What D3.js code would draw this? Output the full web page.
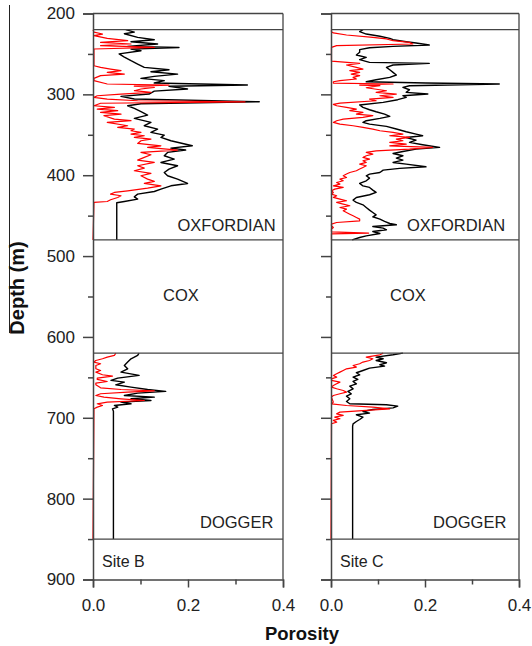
<!DOCTYPE html>
<html>
<head>
<meta charset="utf-8">
<script src="https://cdn.jsdelivr.net/npm/d3@7"></script>
<style>
  html, body { margin: 0; padding: 0; background: #fff; }
  svg { display: block; font-family: "Liberation Sans", Arial, Helvetica, sans-serif; }
</style>
</head>
<body>
<svg id="chart" width="532" height="646"></svg>
<script>
// ---------------- DATA ----------------
const depthMajorTicks = [200, 300, 400, 500, 600, 700, 800, 900];
const depthMinorTicks = [250, 350, 450, 550, 650, 750, 850];
const porMajorTicks = [0, 0.2, 0.4];
const porMinorTicks = [0.1, 0.3];
const boundaries = [220, 480, 620, 850];
const siteNames = ["Site B", "Site C"];
const unitNames = ["OXFORDIAN", "COX", "DOGGER"];

// Site B – Oxfordian  [depth (m), porosity]
const siteB_oxf_black = [[220,0.069],[223,0.087],[225,0.066],[229.5,0.094],[232.4,0.129],[235,0.080],[237.7,0.136],[240.6,0.073],[242,0.181],[244,0.080],[246,0.101],[250,0.055],[254,0.066],[258.4,0.080],[262.5,0.094],[266.6,0.108],[269.5,0.160],[272,0.122],[275,0.178],[277.8,0.129],[280.2,0.101],[283,0.150],[286,0.129],[288.5,0.325],[290,0.160],[293.4,0.199],[296,0.129],[299.6,0.118],[302.5,0.059],[305.8,0.087],[309.1,0.350],[311.6,0.101],[314.1,0.073],[317.4,0.087],[321.5,0.101],[325.6,0.115],[329.7,0.087],[334.7,0.122],[338.8,0.108],[343,0.136],[347,0.122],[350.4,0.150],[353.3,0.143],[357.4,0.164],[363.6,0.209],[366.5,0.164],[368.9,0.195],[371.8,0.157],[375.9,0.150],[380.1,0.171],[384.2,0.143],[388.3,0.178],[392.4,0.160],[396.6,0.150],[400.7,0.157],[404.8,0.178],[410.2,0.199],[413.1,0.164],[417.2,0.143],[420.1,0.129],[423.4,0.094],[426.7,0.087],[429.6,0.094],[432.5,0.066],[434,0.050],[480,0.050]];
const siteB_oxf_red = [[220,0],[223,0.002],[225.4,0.020],[227.4,0.002],[230.7,0.030],[233.6,0.073],[235.7,0.016],[237.7,0.080],[239.8,0.016],[241.9,0.129],[243.9,0.002],[264.6,0.002],[266.6,0.016],[268.7,0.037],[270.7,0.059],[272.8,0.030],[274.9,0.066],[276.9,0.016],[280.2,0.002],[283.1,0.002],[287.2,0.030],[288.5,0.160],[289.8,0.087],[291.4,0.129],[293.4,0.101],[295.5,0.087],[297.6,0.122],[299.6,0.059],[301.7,0.009],[303.7,0.002],[305.8,0.030],[307.9,0.094],[309.3,0.320],[311,0.016],[314.1,0.002],[316.1,0.045],[318.2,0.009],[320.2,0.052],[322.3,0.016],[324.4,0.059],[326.4,0.023],[330.6,0.045],[332.6,0.080],[334.7,0.030],[338.8,0.073],[340.8,0.052],[342.9,0.087],[345,0.080],[347.1,0.101],[349.1,0.080],[351.2,0.108],[353.3,0.087],[355.3,0.122],[357.4,0.101],[360.7,0.094],[363.6,0.143],[365.6,0.115],[368.9,0.178],[371.8,0.101],[374.7,0.122],[378,0.108],[381.3,0.094],[384.2,0.129],[388.3,0.094],[391.2,0.108],[394.5,0.087],[397.8,0.122],[400.7,0.101],[404.8,0.115],[407.7,0.129],[410.2,0.108],[413.1,0.143],[416,0.115],[419.3,0.073],[421.3,0.045],[423.4,0.037],[425.4,0.059],[427.5,0.052],[430.4,0.037],[432.5,0.030],[433.7,0.002],[480,0]];

// Site B – Dogger
const siteB_dog_black = [[620,0.097],[622.9,0.094],[627,0.080],[631.1,0.073],[635.3,0.066],[639.4,0.073],[643.5,0.059],[647.6,0.097],[650.9,0.052],[653.8,0.038],[655.9,0.066],[659.2,0.048],[662.1,0.080],[665,0.115],[667.4,0.153],[669.5,0.094],[672.4,0.066],[674.5,0.129],[676.5,0.080],[678.6,0.122],[680.6,0.059],[682.7,0.080],[684.8,0.045],[686.8,0.052],[688.9,0.041],[691.8,0.043],[850,0.043]];
const siteB_dog_red = [[620,0.048],[622.9,0.045],[625,0.030],[627,0.020],[629.1,0.006],[631.1,0.002],[633.2,0.016],[635.3,0.006],[639.4,0.006],[641.5,0.016],[643.5,0.006],[646.8,0.020],[648.5,0.041],[650.9,0.009],[652.6,0.009],[655.1,0.030],[657.1,0.006],[659.2,0.006],[662.9,0.016],[665,0.059],[666.6,0.129],[668.3,0.073],[670.3,0.016],[672.4,0.006],[674.5,0.023],[676.5,0.059],[678.6,0.108],[680.6,0.030],[682.7,0.009],[684.8,0.020],[686.8,0.009],[688.9,0.002],[850,0]];

// Site C – Oxfordian
const siteC_oxf_black = [[220,0.068],[222.5,0.061],[225.4,0.075],[228.2,0.104],[230.7,0.125],[232.4,0.132],[234.9,0.160],[236.5,0.181],[239,0.209],[240.6,0.132],[242.3,0.082],[244.7,0.061],[248,0.061],[251.3,0.054],[254.2,0.075],[257.1,0.061],[260.4,0.082],[261.7,0.209],[263.7,0.132],[266.6,0.118],[269.5,0.125],[272.8,0.132],[276.1,0.139],[279,0.125],[281.9,0.096],[284.4,0.075],[286,0.202],[287.2,0.358],[289.3,0.167],[291.4,0.153],[294.3,0.167],[297.6,0.160],[299.6,0.206],[301.7,0.153],[303.7,0.160],[306.6,0.142],[309.9,0.111],[313.2,0.061],[316.1,0.068],[319,0.082],[321.5,0.096],[324.4,0.114],[327.2,0.125],[329.7,0.104],[332.6,0.075],[334.7,0.068],[336.8,0.082],[339.6,0.118],[342.9,0.139],[346.2,0.160],[349.1,0.181],[351.2,0.195],[353.3,0.160],[356.6,0.181],[359.4,0.167],[362.3,0.195],[365.6,0.231],[367.7,0.181],[370.6,0.153],[373.1,0.132],[375.9,0.153],[378.8,0.139],[381.3,0.153],[384.2,0.132],[386.3,0.160],[389.6,0.202],[391.6,0.146],[393.7,0.111],[396.6,0.104],[398.6,0.082],[400.7,0.075],[403.6,0.082],[406.9,0.075],[410.2,0.061],[413.1,0.068],[415.1,0.082],[418.4,0.089],[421.3,0.096],[424.2,0.082],[427.5,0.054],[430.8,0.047],[433.7,0.054],[436.6,0.068],[439.9,0.075],[443.2,0.082],[446.1,0.089],[449,0.096],[451.4,0.089],[454.3,0.104],[457.2,0.114],[459.7,0.125],[461.3,0.139],[463.4,0.089],[465.5,0.111],[467.5,0.118],[469.6,0.089],[472.1,0.104],[475,0.075],[477,0.061],[480,0.045]];
const siteC_oxf_red = [[220,0.001],[222.5,0.001],[224,0.005],[226.6,0.033],[229.5,0.089],[231.5,0.118],[233.6,0.132],[235.7,0.167],[237.7,0.174],[239.8,0.012],[241.9,0.001],[259,0.001],[261.7,0.061],[263.7,0.033],[266.6,0.054],[268.7,0.068],[270.7,0.040],[272.8,0.061],[274.9,0.043],[276.9,0.061],[279,0.047],[281,0.054],[283.1,0.019],[284.4,0.005],[286,0.005],[287.2,0.132],[288.5,0.061],[289.3,0.104],[291.8,0.075],[295.5,0.118],[297.6,0.096],[299.6,0.139],[301.7,0.104],[303.7,0.132],[305.8,0.082],[307.9,0.096],[310.8,0.019],[312.4,0.005],[314.1,0.012],[316.1,0.033],[318.2,0.054],[320.2,0.040],[322.3,0.068],[324.4,0.054],[326.4,0.089],[328.5,0.068],[330.6,0.026],[332.6,0.012],[334.7,0.005],[336.8,0.019],[338.8,0.047],[340.8,0.068],[342.9,0.089],[345,0.104],[347.1,0.132],[349.1,0.153],[351.2,0.125],[353.3,0.167],[355.3,0.139],[357.4,0.153],[359.4,0.125],[361.5,0.160],[363.6,0.125],[365.6,0.216],[367.7,0.167],[369.8,0.096],[371.8,0.075],[373.9,0.089],[375.9,0.075],[378,0.068],[380.1,0.082],[382.1,0.068],[384.2,0.075],[386.3,0.061],[388.3,0.075],[390.4,0.068],[392.4,0.061],[394.5,0.054],[396.6,0.040],[398.6,0.033],[400.7,0.026],[402.8,0.033],[404.8,0.019],[406.9,0.026],[409,0.012],[411,0.019],[413.1,0.005],[415.1,0.026],[417.2,0.008],[419.3,0.001],[421.3,0.005],[423.4,0.001],[425.4,0.012],[427.5,0.005],[429.6,0.019],[431.6,0.033],[433.7,0.012],[435.8,0.026],[437.8,0.040],[439.9,0.019],[441.9,0.033],[444,0.026],[446.1,0.033],[448.2,0.040],[450.2,0.047],[452.3,0.054],[454.3,0.061],[456.4,0.061],[458.5,0.012],[460.5,0.001],[462.5,0.001],[464.6,0.005],[466.6,0.001],[470,0.001],[471.5,0.080],[472.5,0.001],[480,0.001]];

// Site C – Dogger
const siteC_dog_black = [[620,0.153],[622.1,0.132],[625,0.096],[627,0.111],[629.1,0.096],[632,0.118],[634.4,0.104],[636.1,0.114],[638.6,0.082],[641.5,0.068],[644.3,0.054],[646.8,0.061],[649.7,0.047],[652.6,0.057],[655.1,0.047],[658,0.054],[660.8,0.040],[664.1,0.047],[667.4,0.036],[670.3,0.043],[673.2,0.033],[676.5,0.040],[679.8,0.033],[682.7,0.040],[683.9,0.118],[685.6,0.142],[687.7,0.132],[689.7,0.089],[692.2,0.068],[694.3,0.082],[696.3,0.054],[699.2,0.068],[702.1,0.061],[704.6,0.054],[707.5,0.047],[710.3,0.046],[850,0.046]];
const siteC_dog_red = [[620,0.111],[622.1,0.104],[625,0.075],[627,0.089],[629.1,0.082],[631.1,0.068],[633.2,0.061],[635.3,0.047],[637.3,0.054],[639.4,0.033],[641.5,0.026],[643.5,0.019],[645.6,0.012],[647.6,0.005],[649.7,0.012],[651.8,0.001],[653.8,0.001],[655.9,0.019],[657.9,0.012],[660,0.005],[662.1,0.001],[664.1,0.012],[666.2,0.026],[668.3,0.033],[670.3,0.019],[672.4,0.005],[674.5,0.001],[680.6,0.005],[682.7,0.001],[684.8,0.033],[686.8,0.089],[688.9,0.125],[690.9,0.075],[693,0.019],[695.1,0.012],[697.1,0.026],[699.2,0.008],[701.2,0.019],[703.3,0.005],[705.4,0.012],[707.4,0.001],[850,0]];

// ---------------- CHART ----------------
const svg = d3.select("#chart");
const FONT = 17;
const LABEL_FONT = 16.5;
const axisColor = "#444";

const y = d3.scaleLinear().domain([200, 900]).range([13.5, 579.5]);

const panels = [
  { name: siteNames[0], x0: 93, x1: 283, labels: true,
    oxfStart: 177.5, coxCenter: 181, dogStart: 200,
    series: [siteB_oxf_black, siteB_dog_black], reds: [siteB_oxf_red, siteB_dog_red] },
  { name: siteNames[1], x0: 331, x1: 519, labels: false,
    oxfStart: 407, coxCenter: 408, dogStart: 433,
    series: [siteC_oxf_black, siteC_dog_black], reds: [siteC_oxf_red, siteC_dog_red] }
];

// faint artifact line at far left
svg.append("line").attr("x1", 9.5).attr("x2", 9.5).attr("y1", 5).attr("y2", 333)
  .attr("stroke", "#222").attr("stroke-width", 1);

panels.forEach(p => {
  const x = d3.scaleLinear().domain([0, 0.4]).range([p.x0, p.x1]);
  const g = svg.append("g");

  // curves
  const line = d3.line().x(d => x(d[1])).y(d => y(d[0]));
  p.series.forEach(s => {
    g.append("path").datum(s).attr("d", line)
      .attr("fill", "none").attr("stroke", "#000").attr("stroke-width", 1.4)
      .attr("stroke-linejoin", "round");
  });
  p.reds.forEach(s => {
    g.append("path").datum(s).attr("d", line)
      .attr("fill", "none").attr("stroke", "#ff0000").attr("stroke-width", 1.2)
      .attr("stroke-linejoin", "round");
  });

  // boundaries
  boundaries.forEach(b => {
    g.append("line").attr("x1", p.x0).attr("x2", p.x1).attr("y1", y(b)).attr("y2", y(b))
      .attr("stroke", axisColor).attr("stroke-width", 1.3);
  });
  // top & right frame
  g.append("line").attr("x1", p.x0).attr("x2", p.x1).attr("y1", y(200)).attr("y2", y(200))
    .attr("stroke", axisColor).attr("stroke-width", 1.3);
  g.append("line").attr("x1", p.x1).attr("x2", p.x1).attr("y1", y(200)).attr("y2", y(900))
    .attr("stroke", axisColor).attr("stroke-width", 1.3);

  // left axis
  const yMaj = d3.axisLeft(y).tickValues(depthMajorTicks).tickSize(10).tickPadding(8)
    .tickFormat(p.labels ? d3.format("d") : () => "");
  const yMin = d3.axisLeft(y).tickValues(depthMinorTicks).tickSize(5).tickFormat(() => "");
  g.append("g").attr("transform", `translate(${p.x0},0)`).call(yMaj);
  g.append("g").attr("transform", `translate(${p.x0},0)`).call(yMin).select(".domain").remove();

  // bottom axis
  const xMaj = d3.axisBottom(x).tickValues(porMajorTicks).tickSize(8).tickPadding(11)
    .tickFormat(d3.format(".1f"));
  const xMin = d3.axisBottom(x).tickValues(porMinorTicks).tickSize(5).tickFormat(() => "");
  g.append("g").attr("transform", `translate(0,${y(900)})`).call(xMaj);
  g.append("g").attr("transform", `translate(0,${y(900)})`).call(xMin).select(".domain").remove();

  g.selectAll(".domain").attr("stroke", axisColor).attr("stroke-width", 1.5);
  g.selectAll(".tick line").attr("stroke", axisColor).attr("stroke-width", 1.5);
  g.selectAll(".tick text").attr("font-size", FONT).attr("fill", "#222")
    .attr("font-family", "Liberation Sans, Arial, sans-serif");

  // unit labels
  g.append("text").attr("x", p.oxfStart).attr("y", y(480) - 9).text(unitNames[0])
    .attr("font-size", LABEL_FONT).attr("fill", "#222");
  g.append("text").attr("x", p.coxCenter).attr("y", y(550) + 4).attr("text-anchor", "middle")
    .text(unitNames[1]).attr("font-size", LABEL_FONT).attr("fill", "#222");
  g.append("text").attr("x", p.dogStart).attr("y", y(850) - 11).text(unitNames[2])
    .attr("font-size", LABEL_FONT).attr("fill", "#222");
  g.append("text").attr("x", p.x0 + 9).attr("y", 567).text(p.name)
    .attr("font-size", 16).attr("fill", "#222");
});

// axis titles
svg.append("text").attr("transform", "translate(24,288) rotate(-90)")
  .attr("text-anchor", "middle").attr("font-weight", "bold").attr("font-size", 20)
  .attr("fill", "#111").text("Depth (m)");
svg.append("text").attr("x", 302).attr("y", 640).attr("text-anchor", "middle")
  .attr("font-weight", "bold").attr("font-size", 18.5).attr("fill", "#111").text("Porosity");
</script>
</body>
</html>
